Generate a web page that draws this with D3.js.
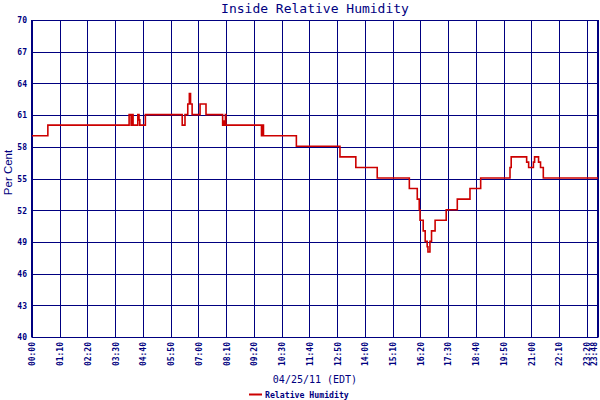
<!DOCTYPE html>
<html><head><meta charset="utf-8">
<script src="https://cdn.jsdelivr.net/npm/d3@7"></script>
<style>
html,body{margin:0;padding:0;background:#fff;}
svg{display:block;}
</style></head>
<body>
<svg id="c" width="600" height="400"></svg>
<script>
// ---- data ----
const title = "Inside Relative Humidity";
const yTitle = "Per Cent";
const xTitle = "04/25/11 (EDT)";
const seriesName = "Relative Humidity";
const times = ["00:00","00:40","04:05","04:10","04:14","04:15","04:27","04:30","04:32","04:46",
  "06:19","06:26","06:33","06:37","06:40","06:44","07:04","07:19","08:01","08:04","08:05","08:08","08:09",
  "09:39","09:42","09:44","11:07","12:57","13:37","14:31","15:52","16:12","16:17","16:19","16:27","16:32",
  "16:37","16:39","16:44","16:48","16:57","17:25","17:53","18:25","18:52","20:06","20:09","20:48","20:53",
  "21:05","21:08","21:18","21:23","21:30","23:48"];
const values = [59,60,61,60,61,60,61,60.5,60,61,
  60,61,62,63,62,61,62,61,60,60.4,60,61,60,
  59,60,59,58,57,56,55,54,53,52,51,50,49,
  48.5,48,49,50,51,52,53,54,55,56,57,56.5,56,
  56.5,57,56.5,56,55,55];
const xTickLabels = ["00:00","01:10","02:20","03:30","04:40","05:50","07:00","08:10","09:20","10:30",
  "11:40","12:50","14:00","15:10","16:20","17:30","18:40","19:50","21:00","22:10","23:20","23:48"];
const yTickValues = [40,43,46,49,52,55,58,61,64,67,70];

// ---- drawing ----
const navy = "#000080", red = "#cc0000";
const toMin = s => { const [h,m] = s.split(":").map(Number); return h*60+m; };
const data = times.map((t,i)=>({t:toMin(t), v:values[i]}));
const L=32, R=598, T=20, B=337;
const x = d3.scaleLinear().domain([0, toMin("23:48")]).range([L,R]);
const y = d3.scaleLinear().domain([40,70]).range([B,T]);
const svg = d3.select("#c");

// horizontal grid + y labels
const ya = svg.append("g").attr("transform",`translate(${L},0)`)
  .call(d3.axisLeft(y).tickValues(yTickValues).tickSize(-(R-L)).tickPadding(5).tickFormat(d3.format("d")));
ya.select(".domain").remove();
ya.selectAll("line").attr("stroke",navy).attr("stroke-width",1).attr("shape-rendering","crispEdges");
ya.selectAll("text").attr("fill",navy).attr("font-family","DejaVu Sans Mono").attr("font-weight","bold")
  .attr("font-size","8px").attr("dy","0.35em");

// vertical grid + x labels
const xa = svg.append("g").attr("transform",`translate(0,${B})`)
  .call(d3.axisBottom(x).tickValues(xTickLabels.map(toMin)).tickSize(-(B-T))
    .tickFormat((d,i)=>xTickLabels[i]));
xa.select(".domain").remove();
xa.selectAll("line").attr("stroke",navy).attr("stroke-width",1).attr("shape-rendering","crispEdges");
const n = xTickLabels.length;
xa.selectAll("text").attr("fill",navy).attr("font-family","DejaVu Sans Mono").attr("font-weight","bold")
  .attr("font-size","8px").attr("text-anchor","end")
  .attr("transform","rotate(-90)").attr("x",-5).attr("y",(d,i)=> i===n-1 ? -4 : 0).attr("dy","0.35em");

// frame
svg.append("line").attr("x1",L).attr("x2",L).attr("y1",T).attr("y2",B+0.5).attr("stroke",navy).attr("stroke-width",2);
svg.append("line").attr("x1",R).attr("x2",R).attr("y1",T).attr("y2",B+0.5).attr("stroke",navy).attr("stroke-width",2);

// series
const line = d3.line().x(d=>x(d.t)).y(d=>y(d.v)-0.5).curve(d3.curveStepAfter);
svg.append("path").datum(data).attr("d",line).attr("fill","none").attr("stroke",red).attr("stroke-width",1.6);

// titles
svg.append("text").attr("x",(L+R)/2).attr("y",13).attr("text-anchor","middle")
  .attr("font-family","DejaVu Sans Mono").attr("font-size","13px").attr("fill",navy).text(title);
svg.append("text").attr("transform",`translate(12,${(T+B)/2-6}) rotate(-90)`).attr("text-anchor","middle")
  .attr("font-family","Liberation Sans").attr("font-size","11.5px").attr("fill",navy).text(yTitle);
svg.append("text").attr("x",(L+R)/2).attr("y",383).attr("text-anchor","middle")
  .attr("font-family","DejaVu Sans Mono").attr("font-size","10px").attr("fill",navy).text(xTitle);

// legend
svg.append("line").attr("x1",249).attr("x2",262).attr("y1",394.5).attr("y2",394.5).attr("stroke",red).attr("stroke-width",2);
svg.append("text").attr("x",265).attr("y",398).attr("font-family","DejaVu Sans Mono").attr("font-weight","bold")
  .attr("font-size","8.2px").attr("fill",navy).text(seriesName);
</script>
</body></html>
